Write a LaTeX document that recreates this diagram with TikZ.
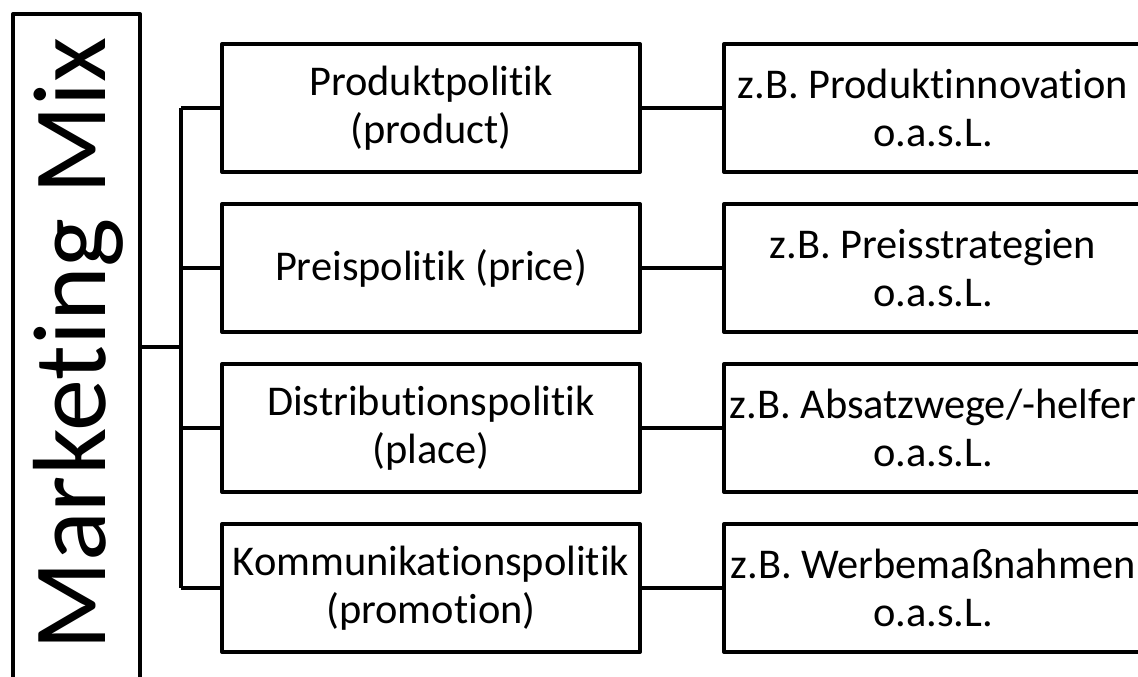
\documentclass[tikz,border=0pt]{standalone}
\usepackage{fontspec}
\setmainfont[Ligatures=NoCommon]{Carlito}
\begin{document}
\begin{tikzpicture}[x=0.75pt,y=-0.75pt,
  line width=3pt, line join=round,
  box/.style={draw, line width=3pt, minimum width=313.5pt, minimum height=96pt,
    inner sep=0pt, align=center, font=\fontsize{31.8}{36}\selectfont},
  conn/.style={draw, line width=3pt}]
\useasboundingbox (0,0) rectangle (1138,677);
\clip (0,0) rectangle (1138,677);
% main box
\node[draw, line width=3pt, minimum width=95.25pt, minimum height=540pt,
  inner sep=0pt, anchor=north west] (mm) at (11,12) {};
\node[rotate=90, anchor=base, inner sep=0pt,
  font=\fontsize{78}{78}\selectfont] (mmtext) at (105,344) {Marketing Mix};
% middle boxes
\node[box] (p1) at (431,108) {Produktpolitik\\(product)};
\node[box] (p2) at (431,268) {Preispolitik (price)};
\node[box] (p3) at (431,428) {Distributionspolitik\\(place)};
\node[box] (p4) at (431,588) {Kommunikationspolitik\\(promotion)};
% right boxes
\node[box] (r1) at (933,108) {z.B. Produktinnovation\\o.a.s.L.};
\node[box] (r2) at (933,268) {z.B. Preisstrategien\\o.a.s.L.};
\node[box] (r3) at (933,428) {z.B. Absatzwege/-helfer\\o.a.s.L.};
\node[box] (r4) at (933,588) {z.B. Werbemaßnahmen\\o.a.s.L.};
% connectors
\coordinate (j) at (181,347);
\coordinate (t1) at (181,108);
\coordinate (t2) at (181,268);
\coordinate (t3) at (181,428);
\coordinate (t4) at (181,588);
\draw[conn] (mm.east |- j) -- (j);
\draw[conn] (t1) -- (t4);
\draw[conn] (t1) -- (p1.west);
\draw[conn] (t2) -- (p2.west);
\draw[conn] (t3) -- (p3.west);
\draw[conn] (t4) -- (p4.west);
\draw[conn] (p1.east) -- (r1.west);
\draw[conn] (p2.east) -- (r2.west);
\draw[conn] (p3.east) -- (r3.west);
\draw[conn] (p4.east) -- (r4.west);
\end{tikzpicture}
\end{document}
